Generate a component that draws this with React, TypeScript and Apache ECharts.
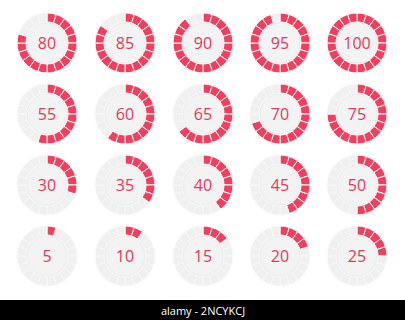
import React, { useEffect, useRef } from "react";
import * as echarts from "echarts";

const values = [80, 85, 90, 95, 100, 55, 60, 65, 70, 75, 30, 35, 40, 45, 50, 5, 10, 15, 20, 25];
const columnsX = [47, 125, 203, 280, 357];
const rowsY = [43, 114, 185, 256];
const segmentCount = 20;
const footerText = "alamy - 2NCYKCJ";

const RED = "#f23f5e";
const GRAY = "#f0f0f0";

export default function App() {
  const ref = useRef<HTMLDivElement>(null);
  useEffect(() => {
    const chart = echarts.init(ref.current!, null, { renderer: "svg" });
    const series: any[] = [];
    values.forEach((v, i) => {
      const cx = columnsX[i % 5];
      const cy = rowsY[Math.floor(i / 5)];
      const filled = Math.round((v / 100) * segmentCount);
      series.push({
        type: "pie",
        center: [cx, cy],
        radius: [21, 30],
        startAngle: 90,
        clockwise: true,
        silent: true,
        label: { show: false },
        labelLine: { show: false },
        data: Array.from({ length: segmentCount }, (_, k) => ({
          value: 1,
          itemStyle:
            k < filled
              ? { color: RED, borderColor: "#ffffff", borderWidth: 1 }
              : { color: GRAY, borderColor: "#f8f8f8", borderWidth: 1 },
        })),
      });
      series.push({
        type: "pie",
        center: [cx, cy],
        radius: [0, 20],
        silent: true,
        labelLine: { show: false },
        itemStyle: { color: "#f3f3f3", borderColor: "#ebebeb", borderWidth: 1 },
        label: {
          show: true,
          position: "center",
          formatter: String(v),
          color: "#e5385a",
          fontSize: 16,
          fontFamily: "Open Sans",
        },
        data: [{ value: v, name: String(v) }],
      });
    });
    chart.setOption({
      animation: false,
      backgroundColor: "#ffffff",
      series,
      graphic: [
        { type: "rect", shape: { x: 0, y: 300, width: 405, height: 20 }, style: { fill: "#000000" } },
        {
          type: "text",
          x: 203,
          y: 310,
          style: {
            text: footerText,
            fill: "#ffffff",
            fontSize: 11,
            fontFamily: "Open Sans",
            align: "center",
            verticalAlign: "middle",
          },
        },
      ],
    });
    return () => chart.dispose();
  }, []);
  return <div ref={ref} style={{ position: "fixed", left: 0, top: 0, width: 405, height: 320 }} />;
}
